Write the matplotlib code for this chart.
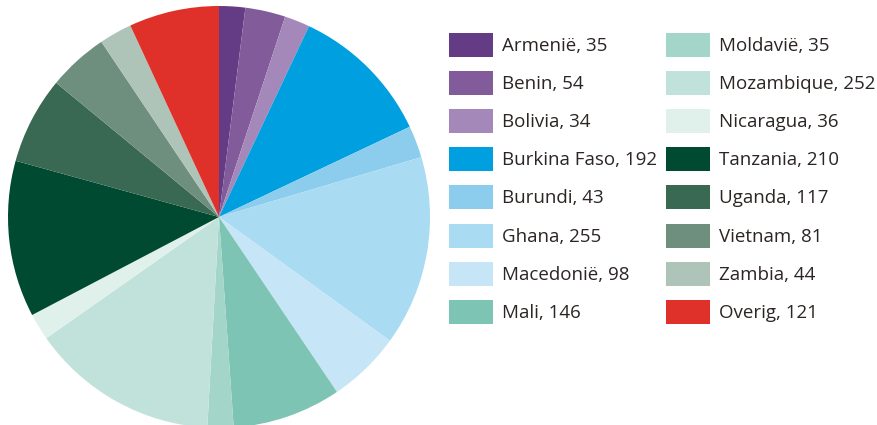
import matplotlib.pyplot as plt
from matplotlib.patches import Rectangle

# Countries and counts (clockwise from 12 o'clock)
countries = ['Armenië', 'Benin', 'Bolivia', 'Burkina Faso', 'Burundi', 'Ghana',
             'Macedonië', 'Mali', 'Moldavië', 'Mozambique', 'Nicaragua',
             'Tanzania', 'Uganda', 'Vietnam', 'Zambia', 'Overig']
counts = [35, 54, 34, 192, 43, 255, 98, 146, 35, 252, 36, 210, 117, 81, 44, 121]
colors = ['#643c86', '#825c9a', '#a488ba', '#009fdf', '#8ccdee', '#a9dbf2',
          '#c6e5f6', '#7ec4b4', '#a3d5c8', '#c1e2da', '#e0f1ec', '#004a32',
          '#396853', '#6f8f7e', '#aec4b8', '#e0302a']

W, H = 877, 425
fig = plt.figure(figsize=(W / 100, H / 100), dpi=100)

# pie
ax = fig.add_axes([8 / W, -3 / H, 422 / W, 422 / H])
ax.pie(counts, colors=colors, startangle=90, counterclock=False,
       radius=1.0, wedgeprops=dict(linewidth=0))
ax.set_xlim(-1, 1)
ax.set_ylim(-1, 1)
ax.set_aspect('equal')
ax.axis('off')

# legend, two columns of eight
text_color = '#2b2523'
for i, (name, n, c) in enumerate(zip(countries, counts, colors)):
    col, row = divmod(i, 8)
    x0 = 449 if col == 0 else 666
    yc = 45 + row * 38.1
    fig.patches.append(Rectangle((x0 / W, 1 - (yc + 12) / H), 44 / W, 24 / H,
                                 transform=fig.transFigure, facecolor=c,
                                 edgecolor='none'))
    fig.text((x0 + 53) / W, 1 - (yc + 1) / H, f'{name}, {n}',
             fontsize=13.5, family='Open Sans', color=text_color,
             va='center', ha='left')

fig.savefig('out.png', dpi=100)
